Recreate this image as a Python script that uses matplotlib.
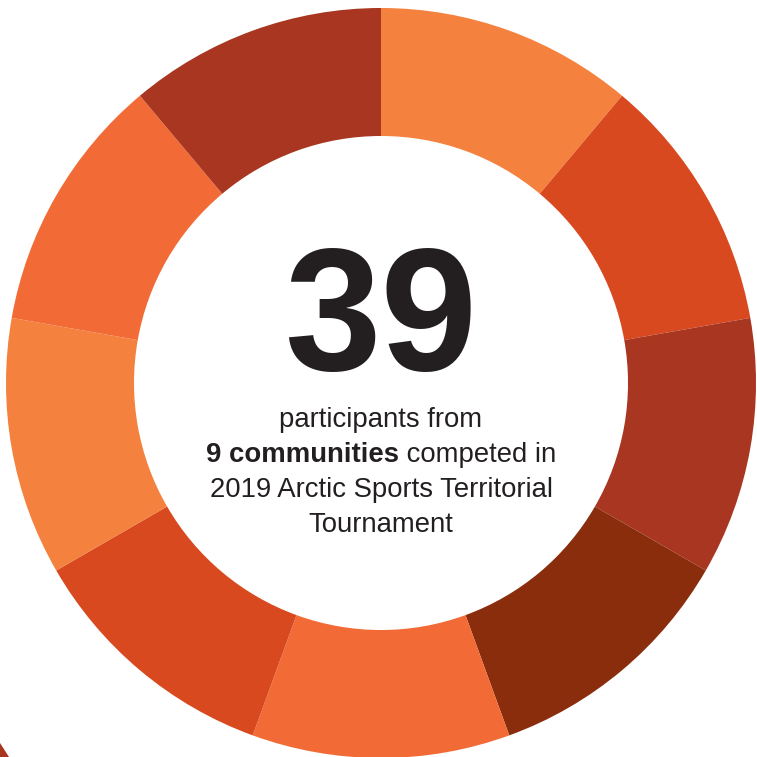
import matplotlib
matplotlib.use('Agg')
import matplotlib.pyplot as plt
from matplotlib.patches import Polygon

# 9 communities, equal slices, clockwise from 12 o'clock
communities = ['C1', 'C2', 'C3', 'C4', 'C5', 'C6', 'C7', 'C8', 'C9']
shares = [1, 1, 1, 1, 1, 1, 1, 1, 1]
colors = ['#F4813D', '#D9491F', '#A83620', '#8A2D0C', '#F26B36',
          '#D9491F', '#F4813D', '#F26B36', '#A83620']

total_participants = 39
line1 = 'participants from'
bold_part = '9 communities'
reg_part = ' competed in'
line3 = '2019 Arctic Sports Territorial'
line4 = 'Tournament'

W = 757
fig = plt.figure(figsize=(W / 100, W / 100), dpi=100)
ax = fig.add_axes([0, 0, 1, 1])

cx, cy = 381, W - 383
R, r = 375, 247
ax.pie(shares, colors=colors, startangle=90, counterclock=False,
       radius=R, center=(cx, cy), frame=True,
       wedgeprops=dict(width=R - r, linewidth=0))
ax.set_xlim(0, W)
ax.set_ylim(0, W)
ax.set_aspect('equal')
ax.axis('off')

# cut-off shape in the lower-left corner
ax.add_patch(Polygon([(0, W - 743), (0, 0), (9, 0)], closed=True,
                     facecolor='#A83620', edgecolor='none'))

txt = '#231F20'
font = 'Liberation Sans'
ax.text(cx, W - 370, str(total_participants), ha='center', va='baseline',
        fontsize=125, color=txt, family=font, fontweight='bold')

fs = 19.8
ax.text(cx, W - 427, line1, ha='center', va='baseline', fontsize=fs,
        color=txt, family=font)
ax.text(cx, W - 497, line3, ha='center', va='baseline', fontsize=fs,
        color=txt, family=font)
ax.text(cx, W - 532, line4, ha='center', va='baseline', fontsize=fs,
        color=txt, family=font)

# mixed bold/regular line, centred as a whole
renderer = fig.canvas.get_renderer()
tb = ax.text(0, W - 462, bold_part, ha='left', va='baseline', fontsize=fs,
             color=txt, family=font, fontweight='bold')
tr = ax.text(0, W - 462, reg_part, ha='left', va='baseline', fontsize=fs,
             color=txt, family=font)
wb = tb.get_window_extent(renderer).width
wr = tr.get_window_extent(renderer).width
x0 = cx - (wb + wr) / 2
tb.set_x(x0)
tr.set_x(x0 + wb)

fig.savefig('out.png', dpi=100, facecolor='white')
